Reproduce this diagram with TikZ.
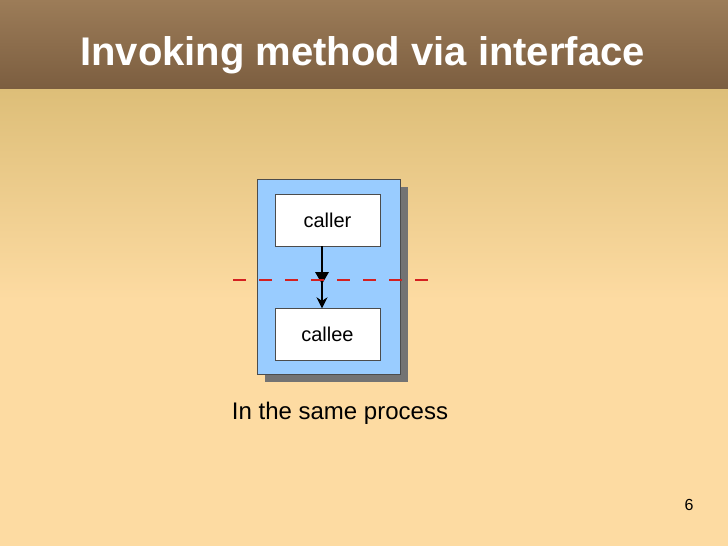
\documentclass[tikz,border=0pt]{standalone}
\usepackage{fontspec}
\setmainfont{Liberation Sans}
\usetikzlibrary{arrows.meta}
\definecolor{headtop}{HTML}{9C7C58}
\definecolor{headbot}{HTML}{7C5E40}
\definecolor{bgtop}{HTML}{DDBE78}
\definecolor{bgbot}{HTML}{FDDBA2}
\definecolor{procblue}{HTML}{99CCFF}
\definecolor{cutred}{HTML}{D42020}
\tikzset{
  box/.style={draw=black!70,fill=white,minimum width=105pt,minimum height=52pt,font=\fontsize{20}{24}\selectfont},
}
\begin{document}
\begin{tikzpicture}[x=1pt,y=-1pt,>={Stealth[length=11pt,width=11pt]}]
   % 背景
   \useasboundingbox (0,0) rectangle (728,546);
   \shade[top color=bgtop,bottom color=bgbot] (0,88) rectangle (728,300);
   \fill[bgbot] (0,300) rectangle (728,546);
   \shade[top color=headtop,bottom color=headbot] (0,0) rectangle (728,88);
   \node[anchor=west,inner sep=0pt,text=white,font=\bfseries\fontsize{40}{46}\selectfont] (title) at (80,55) {Invoking method via interface};
   \node[font=\fontsize{16}{18}\selectfont\rmfamily] (page) at (689,505) {6};

   % プロセス
   \fill[black!55] (265,187) rectangle (408,382);
   \draw[black!70,fill=procblue] (257,179) rectangle (400,374);
   \node[box] (caller) at (327.5,220) {caller};
   \node[box] (callee) at (327.5,334.5) {callee};
   \draw[->,line width=1.5pt] (caller.south -| 322,0) -- (callee.north -| 322,0);
   \fill (315,272) -- (329,272) -- (322,284) -- cycle;

   % 境界線
   \coordinate (cutL) at (233,280);
   \coordinate (cutR) at (433,280);
   \draw[cutred,line width=1.8pt,dash pattern=on 13pt off 13pt] (cutL) -- (cutR);

   \node[font=\fontsize{24}{28}\selectfont] (label) at (340,413) {In the same process};
\end{tikzpicture}
\end{document}
